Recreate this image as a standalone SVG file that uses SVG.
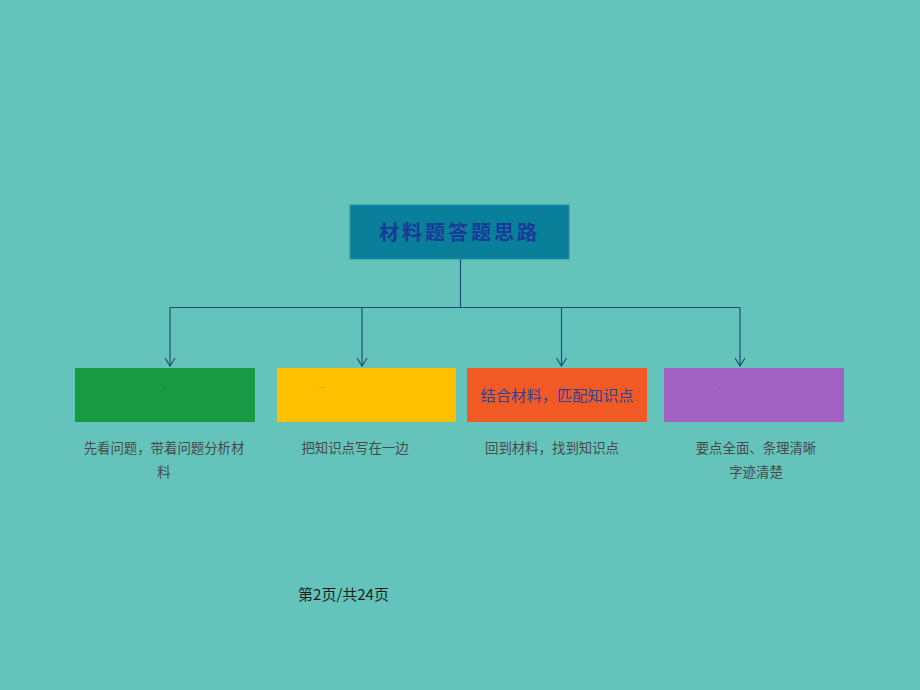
<svg xmlns="http://www.w3.org/2000/svg" width="920" height="690" viewBox="0 0 920 690">
<defs>
<marker id="arr" markerWidth="10" markerHeight="12" refX="9" refY="6" orient="auto" markerUnits="userSpaceOnUse" viewBox="0 0 10 12">
<path d="M1,1 L9,6 L1,11" fill="none" stroke="#1F4E6E" stroke-width="1.2"/>
</marker>
<style>
.cjk{font-family:"Noto Sans CJK SC","Liberation Sans",sans-serif;}
.desc{font-size:13.4px;fill:#4A4A4A;text-anchor:middle;}
.line{stroke:#1F4E6E;stroke-width:1.2;fill:none;}
.dash{font-size:7px;text-anchor:middle;}
</style>
</defs>
<rect x="0" y="0" width="920" height="690" fill="#64C4BC"/>
<g id="connectors">
<path class="line" d="M460.5,259 L460.5,307.5"/>
<path class="line" d="M170,307.5 L740,307.5"/>
<path class="line" d="M170,307.5 L170,366" marker-end="url(#arr)"/>
<path class="line" d="M362,307.5 L362,366" marker-end="url(#arr)"/>
<path class="line" d="M561.5,307.5 L561.5,366" marker-end="url(#arr)"/>
<path class="line" d="M740,307.5 L740,366" marker-end="url(#arr)"/>
</g>
<g id="title">
<rect x="350" y="205" width="219" height="54" fill="#0A7F99" stroke="#2A8FA0" stroke-width="1"/>
<text x="459.5" y="240" class="cjk" font-size="20" font-weight="bold" fill="#1A3A9A" text-anchor="middle" letter-spacing="3">材料题答题思路</text>
</g>
<g id="node1">
<rect x="75" y="368" width="180" height="54" fill="#189A44"/>
<text x="165" y="390" class="cjk dash" fill="#1F4E6E">-</text>
<text x="164" y="453" class="cjk desc">先看问题，带着问题分析材</text>
<text x="164" y="477" class="cjk desc">料</text>
</g>
<g id="node2">
<rect x="277" y="368" width="179" height="54" fill="#FFC000"/>
<text x="322" y="389" class="cjk dash" fill="#B09040">—</text>
<text x="355" y="453" class="cjk desc">把知识点写在一边</text>
</g>
<g id="node3">
<rect x="467" y="368" width="180" height="54" fill="#F15A24"/>
<text x="557" y="401" class="cjk" font-size="15.3" fill="#2A43A0" text-anchor="middle">结合材料，匹配知识点</text>
<text x="552" y="453" class="cjk desc">回到材料，找到知识点</text>
</g>
<g id="node4">
<rect x="664" y="368" width="180" height="54" fill="#A262C2"/>
<text x="719" y="390" class="cjk dash" fill="#5A5AA0">-</text>
<text x="756" y="453" class="cjk desc">要点全面、条理清晰</text>
<text x="756" y="477" class="cjk desc">字迹清楚</text>
</g>
<text x="343.5" y="600" class="cjk" font-size="15" fill="#1E1E1E" text-anchor="middle">第2页/共24页</text>
</svg>
